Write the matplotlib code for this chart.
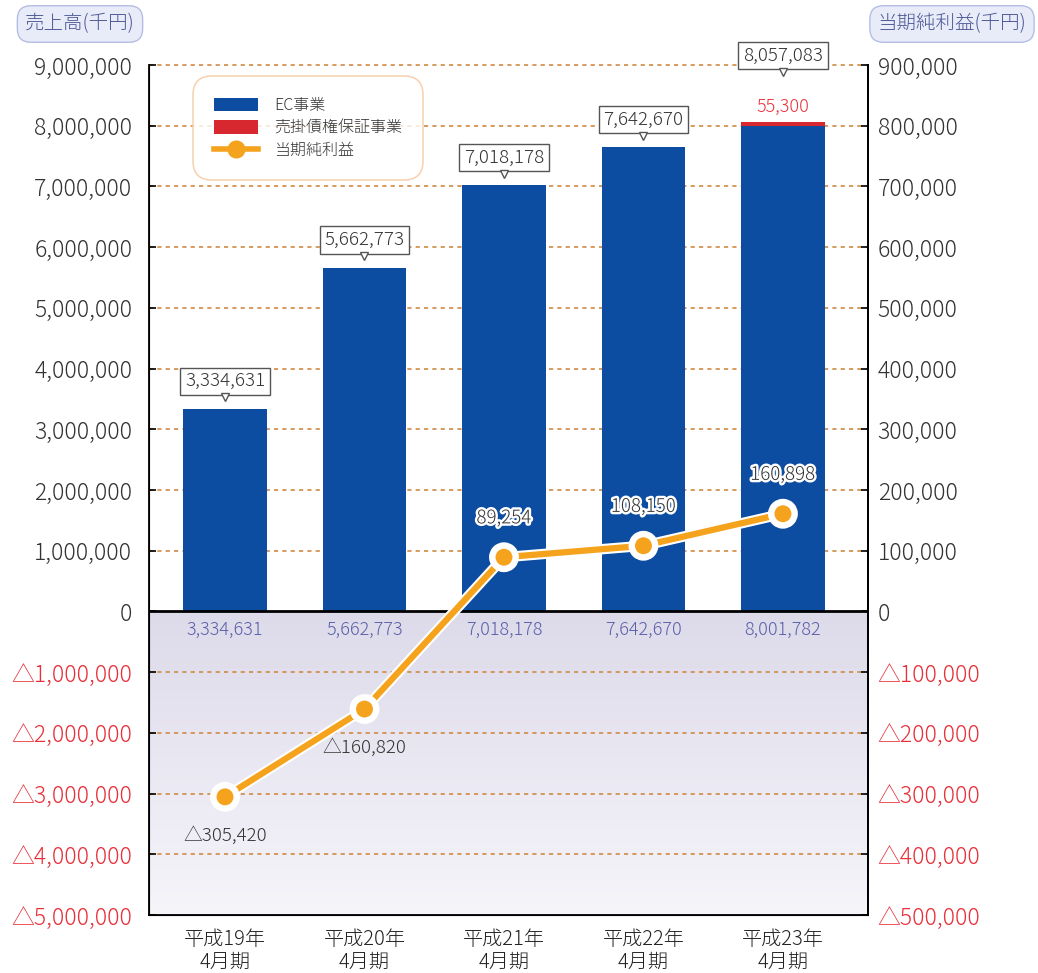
import matplotlib
matplotlib.use("Agg")
import matplotlib.pyplot as plt
import numpy as np
from matplotlib.patches import Patch
from matplotlib.lines import Line2D
from matplotlib.colors import LinearSegmentedColormap
import matplotlib.patheffects as pe
import matplotlib.transforms as mtransforms

plt.rcParams['font.family'] = ['Noto Sans CJK JP', 'DejaVu Sans']
plt.rcParams['font.weight'] = 'light'

# ---- data ----
periods = ["平成19年\n4月期", "平成20年\n4月期", "平成21年\n4月期", "平成22年\n4月期", "平成23年\n4月期"]
ec_sales = [3334631, 5662773, 7018178, 7642670, 8001782]
guarantee_sales = [0, 0, 0, 0, 55300]
total_sales = [3334631, 5662773, 7018178, 7642670, 8057083]
net_income = [-305420, -160820, 89254, 108150, 160898]
left_ticks = [-5000000, -4000000, -3000000, -2000000, -1000000, 0, 1000000, 2000000,
              3000000, 4000000, 5000000, 6000000, 7000000, 8000000, 9000000]
right_ticks = [-500000, -400000, -300000, -200000, -100000, 0, 100000, 200000,
               300000, 400000, 500000, 600000, 700000, 800000, 900000]

BLUE = "#0c4da2"
RED = "#d7282f"
ORANGE = "#f5a31c"
NEG_RED = "#e8303a"
TXT = "#333333"
GRID = "#cf8a44"

def fmt(v):
    return f"{v:,}" if v >= 0 else "△" + f"{-v:,}"

fig = plt.figure(figsize=(10.38, 9.73), dpi=100)
ax = fig.add_axes([149/1038, 1-915/973, (868-149)/1038, (915-65)/973])
x = np.arange(len(periods))
xlim = (-0.545, 4.61)
ax.set_xlim(*xlim)
ax.set_ylim(-5000000, 9000000)

# gradient background for negative area
cmap = LinearSegmentedColormap.from_list("bg", ["#dddaea", "#f6f5fa"])
grad = np.linspace(0, 1, 256).reshape(-1, 1)
ax.imshow(grad, cmap=cmap, aspect='auto', extent=[xlim[0], xlim[1], -5000000, 0],
          origin='upper', zorder=0)

for t in left_ticks[1:]:
    if t != 0:
        ax.axhline(t, color=GRID, lw=1.2, ls=(0, (2.5, 2.5)), zorder=1, clip_on=False)

ax.bar(x, ec_sales, width=0.6, color=BLUE, zorder=2)
ax.bar(x, guarantee_sales, width=0.6, bottom=ec_sales, color=RED, zorder=2)
ax.axhline(0, color="black", lw=2, zorder=3)

# callout boxes
for i, tot in enumerate(total_sales):
    extra = 28 if guarantee_sales[i] > 0 else 0
    ax.annotate(f"{tot:,}", xy=(x[i], tot), xytext=(0, 20 + extra), textcoords="offset points",
                ha="center", va="center", fontsize=13.5, color=TXT, zorder=6,
                bbox=dict(boxstyle="square,pad=0.25", fc="white", ec="#555555", lw=1))
    ax.plot([x[i]], [tot], marker="v", ms=6, mfc="white", mec="#555555", mew=1,
            transform=ax.transData + mtransforms.ScaledTranslation(0, (8.3 + extra)/72, fig.dpi_scale_trans),
            zorder=7, clip_on=False)
    if guarantee_sales[i] > 0:
        ax.annotate(f"{guarantee_sales[i]:,}", xy=(x[i], tot), xytext=(0, 11), textcoords="offset points",
                    ha="center", va="center", fontsize=13, color=NEG_RED, zorder=6)
    ax.annotate(f"{ec_sales[i]:,}", xy=(x[i], 0), xytext=(0, -13), textcoords="offset points",
                ha="center", va="center", fontsize=13, color="#5a5fa8", zorder=6)

ax.set_yticks(left_ticks)
ax.set_yticklabels([fmt(t) for t in left_ticks], fontsize=16.5)
for lab, t in zip(ax.get_yticklabels(), left_ticks):
    lab.set_color(NEG_RED if t < 0 else TXT)
ax.set_xticks(x)
ax.set_xticklabels(periods, fontsize=14.5, color="#222222", linespacing=1.1)
ax.tick_params(axis='y', direction='in', length=5, width=1.2, pad=12)
ax.tick_params(axis='x', length=0, pad=10)
ax.spines['top'].set_visible(False)
for s in ['left', 'right', 'bottom']:
    ax.spines[s].set_linewidth(1.3)

ax2 = ax.twinx()
ax2.set_ylim(-500000, 900000)
ax2.set_yticks(right_ticks)
ax2.set_yticklabels([fmt(t) for t in right_ticks], fontsize=16.5)
for lab, t in zip(ax2.get_yticklabels(), right_ticks):
    lab.set_color(NEG_RED if t < 0 else TXT)
ax2.tick_params(axis='y', direction='in', length=5, width=1.2, pad=7)
ax2.spines['top'].set_visible(False)
ax2.spines['right'].set_linewidth(1.3)

ax2.plot(x, net_income, color=ORANGE, lw=4.5, marker="o", ms=14, mfc=ORANGE, mec="white", mew=1.8,
         zorder=5, solid_capstyle='round',
         path_effects=[pe.Stroke(linewidth=7.5, foreground="white"), pe.Normal()])
for i, v in enumerate(net_income):
    if v >= 0:
        ax2.annotate(fmt(v), xy=(x[i], v), xytext=(0, 28), textcoords="offset points",
                     ha="center", va="center", fontsize=13.5, color=TXT, zorder=8,
                     path_effects=[pe.withStroke(linewidth=3.5, foreground="white")])
    else:
        ax2.annotate(fmt(v), xy=(x[i], v), xytext=(0, -28), textcoords="offset points",
                     ha="center", va="center", fontsize=13.5, color=TXT, zorder=8)

# legend
handles = [Patch(fc=BLUE, ec="none"), Patch(fc=RED, ec="none"),
           Line2D([0], [0], color=ORANGE, lw=4, marker="o", ms=12, mfc=ORANGE, mec=ORANGE)]
labels = ["EC事業", "売掛債権保証事業", "当期純利益"]
leg = ax2.legend(handles, labels, loc="upper left", bbox_to_anchor=(0.061, 0.987),
                 borderaxespad=0, fontsize=11.5, handlelength=2.8, handleheight=0.9,
                 labelspacing=0.35, borderpad=1.3, handletextpad=1.0, frameon=True,
                 fancybox=True, labelcolor="#333333")
frame = leg.get_frame()
frame.set_edgecolor("#f7c9a3")
frame.set_linewidth(1.2)
frame.set_boxstyle("round,pad=0,rounding_size=1.2")
leg.set_zorder(10)

# axis titles
boxkw = dict(boxstyle="round,pad=0.4,rounding_size=0.7", fc="#e8ecf8", ec="#b5bde3", lw=1)
fig.text(80/1038, 1-24/973, "売上高(千円)", ha="center", va="center", fontsize=14,
         color="#4a5594", bbox=boxkw)
fig.text(952/1038, 1-24/973, "当期純利益(千円)", ha="center", va="center", fontsize=14,
         color="#4a5594", bbox=boxkw)

fig.savefig("out.png", dpi=100)
